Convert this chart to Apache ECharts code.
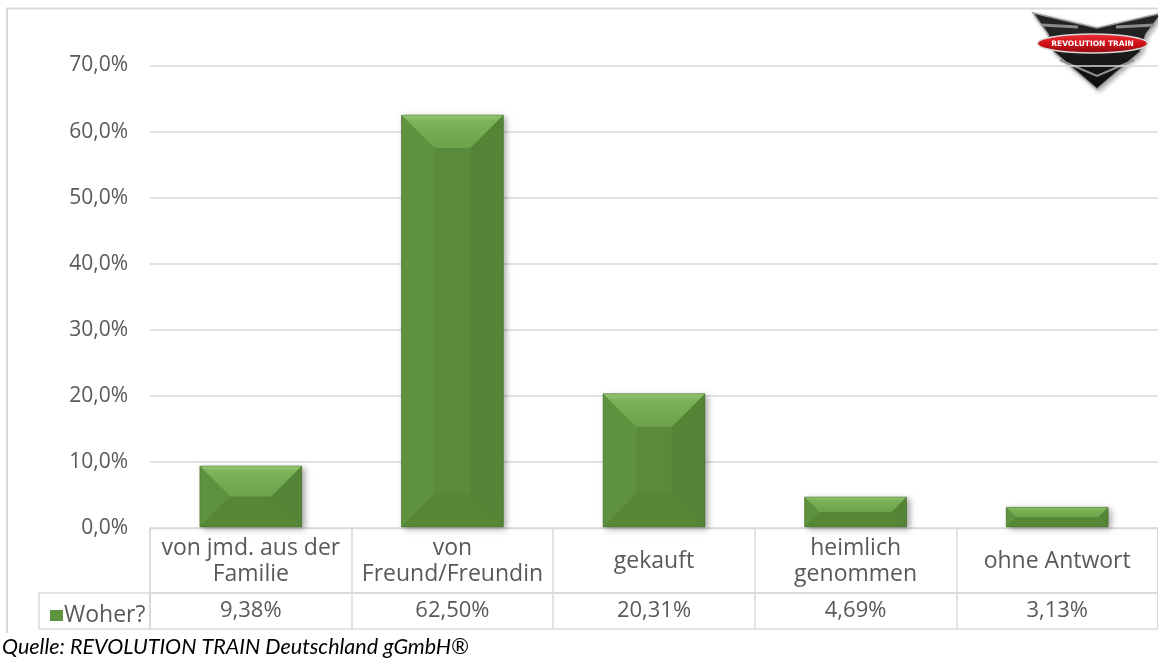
<!DOCTYPE html>
<html>
<head>
<meta charset="utf-8">
<script src="https://cdn.jsdelivr.net/npm/echarts@6/dist/echarts.min.js"></script>
<style>
html,body{margin:0;padding:0;background:#fff;}
#chart{width:1158px;height:659px;}
</style>
</head>
<body>
<div id="chart"></div>
<script>
// ---- data ----
const categories = ['von jmd. aus der\nFamilie', 'von\nFreund/Freundin', 'gekauft', 'heimlich\ngenommen', 'ohne Antwort'];
const values = [9.38, 62.50, 20.31, 4.69, 3.13];
const seriesName = 'Woher?';
const yMin = 0, yMax = 70, yStep = 10;
const sourceNote = 'Quelle: REVOLUTION TRAIN Deutschland gGmbH\u00AE';
const logoText = 'REVOLUTION TRAIN';

// ---- helpers ----
const fmtAxis = v => v.toFixed(1).replace('.', ',') + '%';
const fmtVal = v => v.toFixed(2).replace('.', ',') + '%';
const FONT = '"Open Sans", sans-serif';
const TXT = '#595959';
const LINE = '#d9d9d9';

function renderBar(params, api) {
  const top = api.coord([api.value(0), api.value(1)]);
  const base = api.coord([api.value(0), 0]);
  const w = api.size([1, 0])[0] * 0.505;
  const L = top[0] - w / 2, R = L + w, T = top[1], B = base[1] - 1;
  const h = B - T;
  const b = Math.min(33, h / 2);
  const poly = (pts, fill) => ({ type: 'polygon', shape: { points: pts }, style: { fill: fill }, silent: true });
  return {
    type: 'group',
    children: [
      { type: 'rect', shape: { x: L, y: T, width: w, height: h },
        style: { fill: '#5a8b3a', shadowBlur: 6, shadowOffsetX: 3, shadowOffsetY: 2, shadowColor: 'rgba(0,0,0,0.35)' } },
      { type: 'rect', shape: { x: L + b, y: T + b, width: Math.max(0, w - 2 * b), height: Math.max(0, h - 2 * b) },
        style: { fill: '#5a8b3a' } },
      poly([[L, T], [L + b, T + b], [L + b, B - b], [L, B]], '#5e923e'),
      poly([[R, T], [R, B], [R - b, B - b], [R - b, T + b]], '#548536'),
      poly([[L, B], [L + b, B - b], [R - b, B - b], [R, B]], '#568737'),
      poly([[L, T], [R, T], [R - b, T + b], [L + b, T + b]], new echarts.graphic.LinearGradient(0, 0, 0, 1, [
        { offset: 0, color: '#92c571' }, { offset: 0.2, color: '#7cb359' }, { offset: 1, color: '#6ca249' }])),
      { type: 'rect', shape: { x: L, y: T, width: w, height: h }, style: { fill: 'none', stroke: 'rgba(70,110,40,0.5)', lineWidth: 1 } }
    ]
  };
}

const chart = echarts.init(document.getElementById('chart'), null, { renderer: 'canvas' });

const option = {
  animation: false,
  backgroundColor: '#fff',
  textStyle: { fontFamily: FONT },
  grid: [
    { left: 150, top: 65.5, width: 1010, height: 462.5 },
    { left: 150, top: 528.5, width: 1010, height: 64.5, show: true, borderColor: LINE, borderWidth: 1.5, backgroundColor: 'transparent' },
    { left: 150, top: 593, width: 1010, height: 36, show: true, borderColor: LINE, borderWidth: 1.5, backgroundColor: 'transparent' },
    { left: 39, top: 593, width: 111, height: 36, show: true, borderColor: LINE, borderWidth: 1.5, backgroundColor: 'transparent' }
  ],
  xAxis: [
    { type: 'category', gridIndex: 0, data: categories, boundaryGap: true,
      axisLine: { show: false }, axisTick: { show: false }, axisLabel: { show: false }, splitLine: { show: false } },
    { type: 'category', gridIndex: 1, data: categories, boundaryGap: true,
      axisLine: { show: false }, axisTick: { show: false },
      splitLine: { show: true, interval: 0, lineStyle: { color: LINE, width: 1.5 } },
      axisLabel: { show: true, interval: 0, margin: -32, verticalAlign: 'middle', align: 'center',
        fontSize: 23, lineHeight: 26, color: TXT, fontFamily: FONT } },
    { type: 'category', gridIndex: 2, data: categories, boundaryGap: true,
      axisLine: { show: false }, axisTick: { show: false },
      splitLine: { show: true, interval: 0, lineStyle: { color: LINE, width: 1.5 } },
      axisLabel: { show: true, interval: 0, margin: -18, verticalAlign: 'middle', align: 'center',
        fontSize: 22, color: TXT, fontFamily: FONT,
        formatter: (v, i) => fmtVal(values[i]) } },
    { type: 'value', gridIndex: 3, show: false }
  ],
  yAxis: [
    { type: 'value', gridIndex: 0, min: yMin, max: yMax, interval: yStep,
      axisLine: { show: false }, axisTick: { show: false },
      splitLine: { show: true, lineStyle: { color: LINE, width: 1.5 } },
      axisLabel: { formatter: fmtAxis, fontSize: 21, color: TXT, margin: 22, fontFamily: FONT } },
    { type: 'value', gridIndex: 1, show: false, min: 0, max: 1 },
    { type: 'value', gridIndex: 2, show: false, min: 0, max: 1 },
    { type: 'value', gridIndex: 3, show: false, min: 0, max: 1 }
  ],
  legend: {
    left: 45, top: 599, itemWidth: 13, itemHeight: 11, itemGap: 4,
    icon: 'rect',
    textStyle: { fontSize: 23, color: TXT, fontFamily: FONT, padding: [0, 0, 0, -4] },
    data: [seriesName]
  },
  series: [
    {
      name: seriesName, type: 'custom', xAxisIndex: 0, yAxisIndex: 0,
      itemStyle: { color: '#5f9540' },
      renderItem: renderBar,
      encode: { x: 0, y: 1 },
      data: values.map((v, i) => [i, v])
    }
  ],
  graphic: [
    { type: 'polyline', shape: { points: [[7, 633], [7, 8.5], [1160, 8.5]] }, style: { stroke: LINE, lineWidth: 2, fill: 'none' }, silent: true },
    { type: 'text', x: 2, y: 647, style: { text: sourceNote, font: 'italic 21.5px Lato, "Open Sans", sans-serif', fill: '#000', verticalAlign: 'middle' }, silent: true },
    { type: 'group', silent: true, children: [
      { type: 'polygon', shape: { points: [[1033, 13], [1097, 28], [1162, 13], [1146, 34], [1140, 52], [1097, 89], [1054, 52], [1048, 34]] },
        style: { fill: new echarts.graphic.LinearGradient(0, 0, 0, 1, [{ offset: 0, color: '#2a2a2a' }, { offset: 1, color: '#0d0d0d' }]),
          stroke: '#9a9a9a', lineWidth: 1.5, shadowBlur: 4, shadowOffsetX: 2, shadowOffsetY: 2, shadowColor: 'rgba(0,0,0,0.3)' } },
      { type: 'polyline', shape: { points: [[1042, 25], [1078, 27]] }, style: { stroke: '#8a8a8a', lineWidth: 3 } },
      { type: 'polyline', shape: { points: [[1116, 27], [1154, 25]] }, style: { stroke: '#8a8a8a', lineWidth: 3 } },
      { type: 'polyline', shape: { points: [[1060, 60], [1097, 76], [1134, 60]] }, style: { stroke: '#8f8f8f', lineWidth: 2, fill: 'none' } },
      { type: 'ellipse', shape: { cx: 1092.5, cy: 43.5, rx: 55, ry: 9.5 },
        style: { fill: new echarts.graphic.LinearGradient(0, 0, 0, 1, [{ offset: 0, color: '#f0333a' }, { offset: 0.5, color: '#d10f18' }, { offset: 1, color: '#8e0a0f' }]),
          stroke: '#d8d8d8', lineWidth: 1.5 } },
      { type: 'text', x: 1092.5, y: 44, style: { text: logoText, font: 'bold 7.5px "DejaVu Sans", sans-serif', fill: '#fff', align: 'center', verticalAlign: 'middle' } }
    ] }
  ]
};

chart.setOption(option);
</script>
</body>
</html>
